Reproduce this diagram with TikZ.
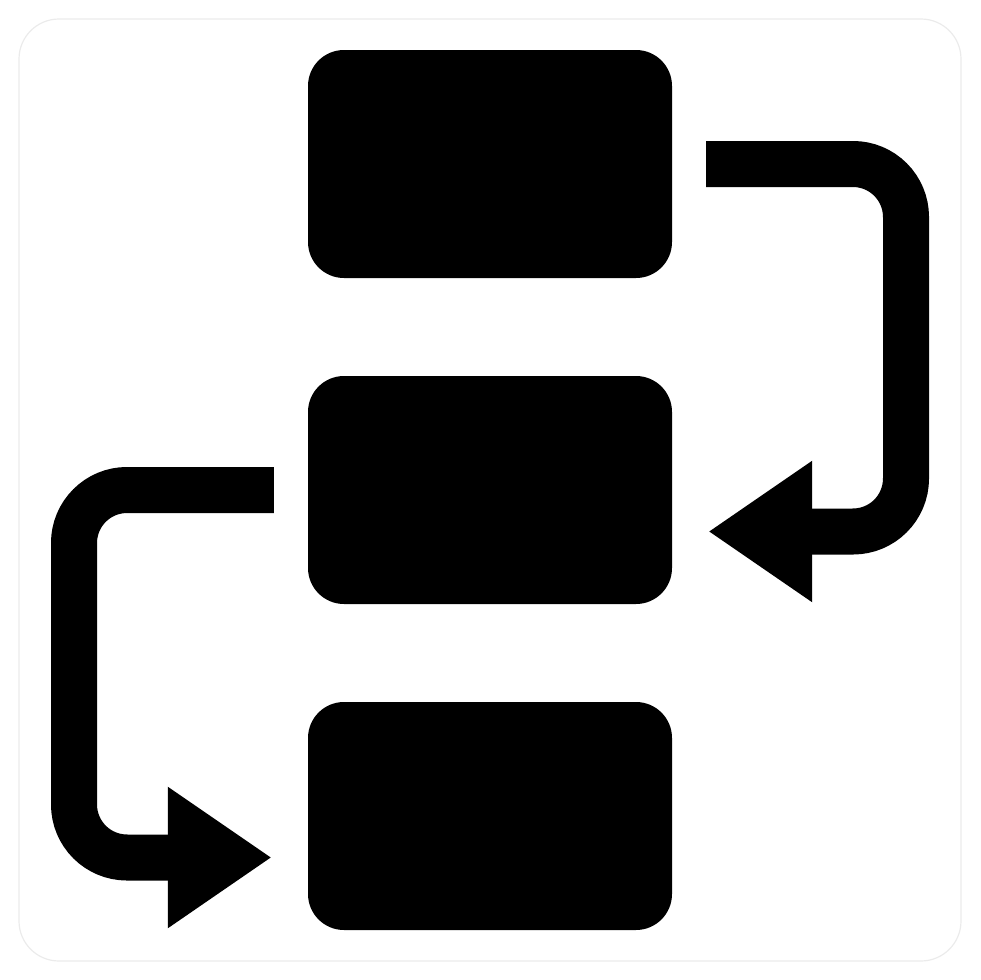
\documentclass[tikz,border=0pt]{standalone}
\usetikzlibrary{arrows.meta,calc}
\begin{document}
\begin{tikzpicture}[x=1pt,y=-1pt,
  stepbox/.style={rectangle,rounded corners=36pt,fill=black,draw=none,inner sep=0pt,minimum width=364pt,minimum height=228pt},
  flowarrow/.style={line width=46pt,rounded corners=53pt,-{Triangle[length=104pt,width=134pt]}}]
\useasboundingbox (0,0) rectangle (980,980);
\draw[black!8,line width=1.2pt,rounded corners=40pt] (19,19) rectangle (961,961);
\node[stepbox] (b1) at (490,164) {};
\node[stepbox] (b2) at (490,490) {};
\node[stepbox] (b3) at (490,816) {};
\coordinate (s1) at ($(b1.east)+(34,0)$);
\coordinate (e1) at ($(b2.east)+(36,41.5)$);
\coordinate (s2) at ($(b2.west)+(-34,0)$);
\coordinate (e2) at ($(b3.west)+(-36,41.5)$);
\draw[flowarrow] (s1) -- (906,164) -- (906,531.5) -- (e1);
\draw[flowarrow] (s2) -- (74,490) -- (74,857.5) -- (e2);
\end{tikzpicture}
\end{document}
